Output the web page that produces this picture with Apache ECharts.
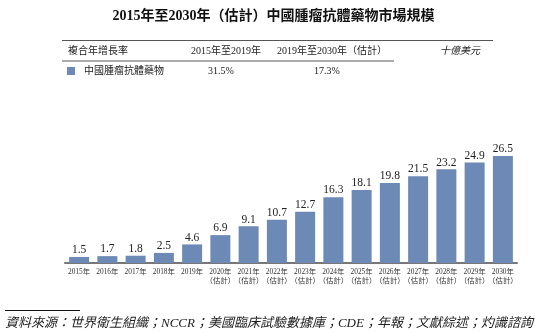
<!DOCTYPE html>
<html><head><meta charset="utf-8">
<script src="https://cdn.jsdelivr.net/npm/echarts@6/dist/echarts.min.js"></script>
<style>html,body{margin:0;padding:0;background:#fff}#c{width:547px;height:333px}</style>
</head><body><div id="c"></div>
<script>
var years = ['2015','2016','2017','2018','2019','2020','2021','2022','2023','2024','2025','2026','2027','2028','2029','2030'];
var estimated = [false,false,false,false,false,true,true,true,true,true,true,true,true,true,true,true];
var values = [1.5,1.7,1.8,2.5,4.6,6.9,9.1,10.7,12.7,16.3,18.1,19.8,21.5,23.2,24.9,26.5];
var cagrHeaders = ['複合年增長率','2015年至2019年','2019年至2030年（估計）','十億美元'];
var seriesName = '中國腫瘤抗體藥物';
var cagrValues = ['31.5%','17.3%'];
var titleText = '2015年至2030年（估計）中國腫瘤抗體藥物市場規模';
var sourceText = '資料來源：世界衛生組織；NCCR；美國臨床試驗數據庫；CDE；年報；文獻綜述；灼識諮詢';

var SERIF = '"Liberation Serif","Noto Sans CJK TC",serif';
var CJK = '"Liberation Serif","Noto Sans CJK TC",serif';
var BAR = '#6d89b6';
var TXT = '#222';

var cats = years.map(function(y,i){ return estimated[i] ? y + '年\n（估計）' : y + '年'; });

var chart = echarts.init(document.getElementById('c'));
chart.setOption({
  animation:false,
  title:{text:titleText,left:'center',top:4,textStyle:{fontFamily:CJK,fontSize:14,fontWeight:'bold',color:'#111'}},
  grid:{left:65,right:30,top:141.8,height:121.2,containLabel:false},
  xAxis:{type:'category',data:cats,
    axisLine:{lineStyle:{color:'#777',width:2}},axisTick:{show:false},
    axisLabel:{interval:0,fontFamily:CJK,fontSize:7.4,lineHeight:9.5,color:'#333',margin:4}},
  yAxis:{type:'value',min:0,max:30,show:false,splitLine:{show:false}},
  series:[{name:seriesName,type:'bar',data:values,barWidth:20,
    itemStyle:{color:BAR},
    label:{show:true,position:'top',distance:1,fontFamily:SERIF,fontSize:11.5,color:TXT}}],
  graphic:[
    {type:'line',shape:{x1:62,y1:40.5,x2:493,y2:40.5},style:{stroke:'#555',lineWidth:1}},
    {type:'line',shape:{x1:62,y1:61,x2:394,y2:61},style:{stroke:'#555',lineWidth:1}},
    {type:'text',style:{text:cagrHeaders[0],x:68,y:51,textVerticalAlign:'middle',font:'10px '+CJK,fill:TXT}},
    {type:'text',style:{text:cagrHeaders[1],x:226,y:51,textAlign:'center',textVerticalAlign:'middle',font:'10px '+CJK,fill:TXT}},
    {type:'text',style:{text:cagrHeaders[2],x:332,y:51,textAlign:'center',textVerticalAlign:'middle',font:'10px '+CJK,fill:TXT}},
    {type:'text',style:{text:cagrHeaders[3],x:460,y:51,textAlign:'center',textVerticalAlign:'middle',font:'italic 10px '+CJK,fill:TXT}},
    {type:'rect',shape:{x:67,y:67,width:8,height:8},style:{fill:BAR}},
    {type:'text',style:{text:seriesName,x:84,y:71,textVerticalAlign:'middle',font:'10px '+CJK,fill:TXT}},
    {type:'text',style:{text:cagrValues[0],x:221,y:71,textAlign:'center',textVerticalAlign:'middle',font:'10px '+SERIF,fill:TXT}},
    {type:'text',style:{text:cagrValues[1],x:327,y:71,textAlign:'center',textVerticalAlign:'middle',font:'10px '+SERIF,fill:TXT}},
    {type:'line',shape:{x1:5,y1:310.5,x2:80,y2:310.5},style:{stroke:'#111',lineWidth:1}},
    {type:'text',style:{text:sourceText,x:5,y:324,textVerticalAlign:'middle',font:'italic 13px '+CJK,fill:TXT}}
  ]
});
</script></body></html>
